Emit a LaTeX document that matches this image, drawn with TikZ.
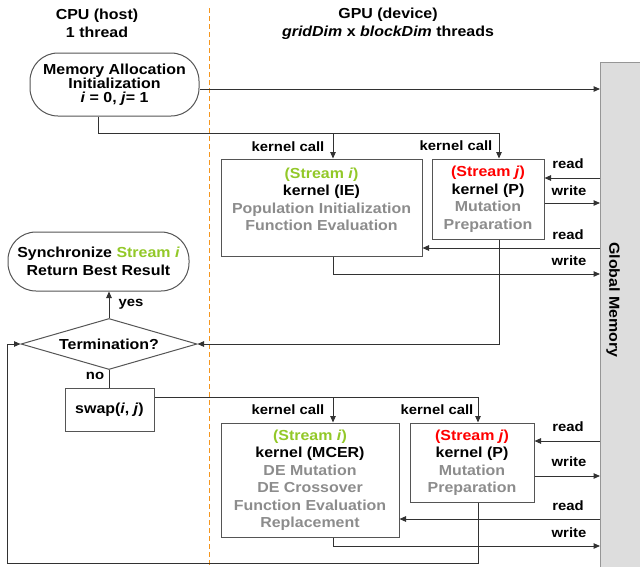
\documentclass[tikz,border=0pt]{standalone}
\usepackage{fontspec}
\setmainfont{Liberation Sans}[FakeStretch=1.1]
\usetikzlibrary{arrows.meta,shapes.geometric}
\definecolor{sgreen}{RGB}{146,200,40}
\definecolor{sred}{RGB}{255,0,0}
\definecolor{tgray}{RGB}{140,140,140}
\definecolor{lcol}{RGB}{50,50,50}
\definecolor{bcol}{RGB}{85,85,85}
\definecolor{gmfill}{RGB}{221,221,221}
\definecolor{gmline}{RGB}{150,150,150}
\definecolor{sepcol}{RGB}{245,150,30}
\begin{document}
\begin{tikzpicture}[x=1pt,y=-1pt,
  font=\bfseries\fontsize{14.5}{17.5}\selectfont,
  box/.style={draw=bcol,line width=1pt,rectangle,inner sep=0pt,align=center},
  term/.style={draw=bcol,line width=1pt,rectangle,rounded corners=28pt,inner sep=0pt,align=center},
  conn/.style={draw=lcol,line width=1pt},
  arr/.style={conn,-{Triangle[length=6.5pt,width=5.5pt]}},
  lbl/.style={font=\bfseries\fontsize{13.5}{15}\selectfont,inner sep=0pt},
  txt/.style={align=center,inner sep=0pt},
  sepline/.style={sepcol,line width=1.2pt,dash pattern=on 5pt off 3pt}]
\useasboundingbox (0,0) rectangle (640,566);
% global memory
\node[draw=gmline,fill=gmfill,line width=1pt,minimum width=45pt,minimum height=508pt,anchor=north west,inner sep=0pt] (gm) at (600,62) {};
\node[txt,rotate=-90] (gmt) at (613,300) {Global Memory};
% headers
\node[txt] (hcpu) at (97,23.5) {CPU (host)\\1 thread};
\node[txt] (hgpu) at (388,23.5) {GPU (device)\\\textit{gridDim} x \textit{blockDim} threads};
\coordinate (sepT) at (209.5,8);
\coordinate (sepB) at (209.5,566);
\draw[sepline] (sepT) -- (sepB);
% CPU side
\node[term,minimum width=169pt,minimum height=63pt,font=\bfseries\fontsize{14.5}{13.5}\selectfont] (mem) at (114.5,84.5) {Memory Allocation\\Initialization\\\textit{i} = 0, \textit{j}= 1};
\node[term,minimum width=181pt,minimum height=59pt] (sync) at (98.5,261.5) {Synchronize \textcolor{sgreen}{Stream \textit{i}}\\Return Best Result};
\node[diamond,draw=bcol,line width=1pt,inner sep=0pt,shape aspect=3.45,minimum width=176pt,minimum height=51pt] (dia) at (109,344) {Termination?};
\node[box,minimum width=89pt,minimum height=43pt] (swap) at (109.5,409.5) {swap(\textit{i}, \textit{j})};
% GPU boxes
\node[box,minimum width=201pt,minimum height=97pt] (IE) at (321.5,207.5) {};
\node[txt] (IEt) at (321.5,199.5) {\textcolor{sgreen}{(Stream \textit{i})}\\kernel (IE)\\\textcolor{tgray}{Population Initialization}\\\textcolor{tgray}{Function Evaluation}};
\node[box,minimum width=112pt,minimum height=80pt] (P1) at (488,199) {\textcolor{sred}{(Stream \textit{j})}\\kernel (P)\\\textcolor{tgray}{Mutation}\\\textcolor{tgray}{Preparation}};
\node[box,minimum width=178pt,minimum height=114pt] (MCER) at (310,480) {\textcolor{sgreen}{(Stream \textit{i})}\\kernel (MCER)\\\textcolor{tgray}{DE Mutation}\\\textcolor{tgray}{DE Crossover}\\\textcolor{tgray}{Function Evaluation}\\\textcolor{tgray}{Replacement}};
\node[box,minimum width=124pt,minimum height=79pt] (P2) at (472,462.5) {\textcolor{sred}{(Stream \textit{j})}\\kernel (P)\\\textcolor{tgray}{Mutation}\\\textcolor{tgray}{Preparation}};
% coordinates
\coordinate (k0) at (98,133);
\coordinate (kIE) at (333,133);
\coordinate (kP1) at (499,133);
\coordinate (wIE) at (333,274);
\coordinate (pd) at (499,344);
\coordinate (s1) at (333,397);
\coordinate (s2) at (478,397);
\coordinate (wM) at (333,546);
\coordinate (L1) at (478,563);
\coordinate (L2) at (7,563);
% connectors
\draw[arr] (mem.east |- 0,89) -- (gm.west |- 0,89);
\draw[arr] (mem.south -| k0) -- (k0) -- (kP1) -- (kP1 |- P1.north);
\draw[arr] (kIE) -- (kIE |- IE.north);
\draw[arr] (gm.west |- 0,178) -- (P1.east |- 0,178);
\draw[arr] (P1.east |- 0,203) -- (gm.west |- 0,203);
\draw[arr] (gm.west |- 0,248) -- (IE.east |- 0,248);
\draw[arr] (IE.south -| wIE) -- (wIE) -- (gm.west |- wIE);
\draw[arr] (P1.south -| pd) -- (pd) -- (dia.east);
\draw[arr] (dia.north) -- (dia.north |- sync.south);
\draw[conn] (dia.south) -- (dia.south |- swap.north);
\draw[arr] (swap.east |- s2) -- (s2) -- (s2 |- P2.north);
\draw[arr] (s1) -- (s1 |- MCER.north);
\draw[arr] (gm.west |- 0,441) -- (P2.east |- 0,441);
\draw[arr] (P2.east |- 0,476) -- (gm.west |- 0,476);
\draw[arr] (gm.west |- 0,519) -- (MCER.east |- 0,519);
\draw[arr] (MCER.south -| wM) -- (wM) -- (gm.west |- wM);
\draw[arr] (P2.south -| L1) -- (L1) -- (L2) -- (L2 |- dia.west) -- (dia.west);
% labels
\node[lbl] (kc1) at (288,147) {kernel call};
\node[lbl] (kc2) at (456,146) {kernel call};
\node[lbl] (kc3) at (288,410) {kernel call};
\node[lbl] (kc4) at (437,410) {kernel call};
\node[lbl] (r1) at (568,164) {read};
\node[lbl] (w1) at (569,191) {write};
\node[lbl] (r2) at (568,235) {read};
\node[lbl] (w2) at (569,261) {write};
\node[lbl] (r3) at (568,427) {read};
\node[lbl] (w3) at (569,462) {write};
\node[lbl] (r4) at (568,506) {read};
\node[lbl] (w4) at (569,533) {write};
\node[lbl] (yes) at (131,304) {yes};
\node[lbl] (no) at (95,376) {no};
\end{tikzpicture}
\end{document}
